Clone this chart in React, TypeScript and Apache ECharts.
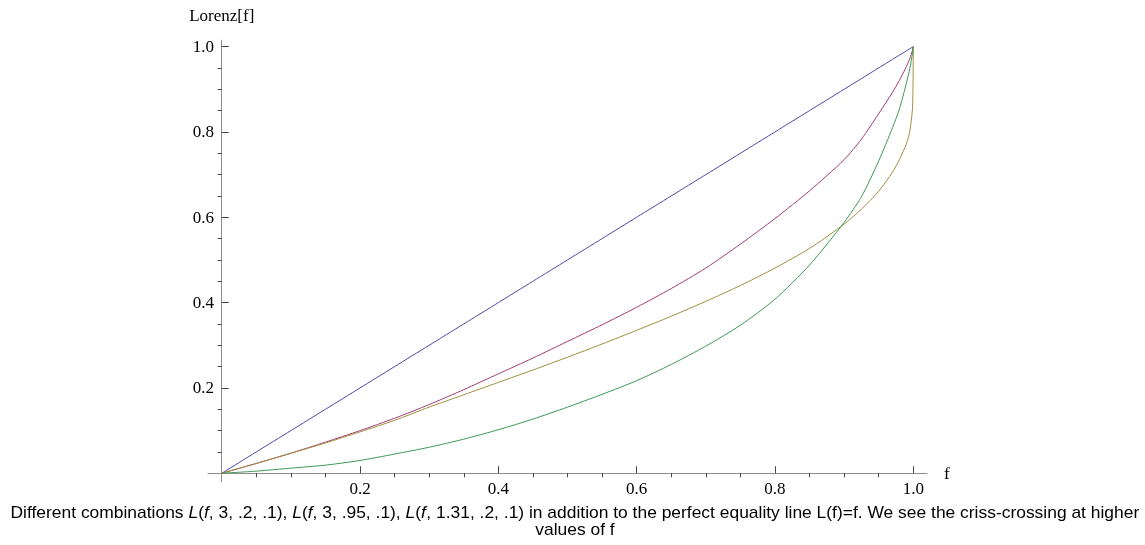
import React, { useEffect, useRef } from "react";
import * as echarts from "echarts";

const fValues = [0, 0.05, 0.1, 0.15, 0.2, 0.25, 0.3, 0.35, 0.4, 0.45, 0.5, 0.55, 0.6, 0.65, 0.7, 0.75, 0.8, 0.85, 0.9, 0.925, 0.95, 0.97, 0.98, 0.99, 0.995, 0.999, 1];
const equalityValues = fValues.slice();
const lorenz3_2 = [0, 0.023, 0.047, 0.073, 0.1, 0.129, 0.161, 0.196, 0.233, 0.27, 0.309, 0.348, 0.389, 0.433, 0.481, 0.537, 0.597, 0.662, 0.735, 0.783, 0.843, 0.893, 0.921, 0.953, 0.972, 0.992, 1];
const lorenz3_95 = [0, 0.023, 0.047, 0.071, 0.097, 0.124, 0.155, 0.184, 0.213, 0.242, 0.272, 0.303, 0.335, 0.368, 0.403, 0.44, 0.481, 0.527, 0.584, 0.619, 0.661, 0.706, 0.735, 0.772, 0.801, 0.86, 1];
const lorenz131_2 = [0, 0.005, 0.012, 0.019, 0.03, 0.045, 0.061, 0.08, 0.102, 0.127, 0.155, 0.185, 0.217, 0.255, 0.298, 0.347, 0.408, 0.488, 0.588, 0.648, 0.732, 0.81, 0.854, 0.914, 0.948, 0.986, 1];

const majorTicks = [0.2, 0.4, 0.6, 0.8, 1.0];
const minorTicks = [0.05, 0.1, 0.15, 0.25, 0.3, 0.35, 0.45, 0.5, 0.55, 0.65, 0.7, 0.75, 0.85, 0.9, 0.95];

const seriesDefs = [
  { name: "L(f)=f", values: equalityValues, color: "#4a4aa8" },
  { name: "L(f, 3, .2, .1)", values: lorenz3_2, color: "#a13d75" },
  { name: "L(f, 3, .95, .1)", values: lorenz3_95, color: "#a08f3e" },
  { name: "L(f, 1.31, .2, .1)", values: lorenz131_2, color: "#3d9956" },
];

const serif = "'Liberation Serif', 'DejaVu Serif', serif";
const sans = "'Liberation Sans', Arial, sans-serif";

export default function App() {
  const ref = useRef<HTMLDivElement>(null);
  useEffect(() => {
    if (!ref.current) return;
    const chart = echarts.init(ref.current, null, { renderer: "svg" });
    const axisCommon = (isX: boolean, major: boolean) => ({
      type: "value",
      min: -0.02,
      max: isX ? 1.02 : 1.015,
      splitLine: { show: false },
      axisLine: { show: major, onZero: true, lineStyle: { color: "#8c8c8c", width: 1 } },
      axisTick: {
        show: true,
        inside: true,
        length: major ? 7 : 4,
        customValues: major ? majorTicks : minorTicks,
        lineStyle: { color: "#444", width: 1 },
      },
      axisLabel: major
        ? {
            show: true,
            customValues: majorTicks,
            formatter: (v: number) => v.toFixed(1),
            color: "#000",
            fontFamily: serif,
            fontSize: 17,
            margin: isX ? -2 : -6,
          }
        : { show: false },
    });
    chart.setOption({
      animation: false,
      grid: { left: 207.9, right: 217.9, top: 40.2, bottom: 63.2, containLabel: false },
      xAxis: [
        {
          ...axisCommon(true, true),
          name: "f",
          nameLocation: "end",
          nameGap: 17,
          nameTextStyle: { color: "#000", fontFamily: serif, fontSize: 17 },
        },
        { ...axisCommon(true, false), axisLine: { show: false, onZero: true, onZeroAxisIndex: 0 } },
      ],
      yAxis: [
        {
          ...axisCommon(false, true),
          name: "Lorenz[f]",
          nameLocation: "end",
          nameGap: 16,
          nameTextStyle: { color: "#000", fontFamily: serif, fontSize: 17 },
        },
        { ...axisCommon(false, false), axisLine: { show: false, onZero: true, onZeroAxisIndex: 0 } },
      ],
      series: seriesDefs.map((s) => ({
        name: s.name,
        type: "line",
        xAxisIndex: 0,
        yAxisIndex: 0,
        showSymbol: false,
        smooth: 0.25,
        lineStyle: { color: s.color, width: 1 },
        data: fValues.map((f, i) => [f, s.values[i]]),
      })),
      graphic: [
        {
          type: "text",
          x: 575,
          y: 512.5,
          scaleX: 1.09,
          style: {
            text:
              "Different combinations {i|L}({i|f}, 3, .2, .1), {i|L}({i|f}, 3, .95, .1), {i|L}({i|f}, 1.31, .2, .1) in addition to the perfect equality line L(f)=f. We see the criss-crossing at higher",
            fontFamily: sans,
            fontSize: 16,
            fill: "#000",
            align: "center",
            verticalAlign: "middle",
            rich: { i: { fontStyle: "italic", fontFamily: sans, fontSize: 16, fill: "#000" } },
          },
        },
        {
          type: "text",
          x: 575,
          y: 529.5,
          scaleX: 1.09,
          style: {
            text: "values of f",
            fontFamily: sans,
            fontSize: 16,
            fill: "#000",
            align: "center",
            verticalAlign: "middle",
          },
        },
      ],
    });
    return () => chart.dispose();
  }, []);
  return <div ref={ref} style={{ position: "fixed", left: 0, top: 0, width: 1145, height: 545 }} />;
}
